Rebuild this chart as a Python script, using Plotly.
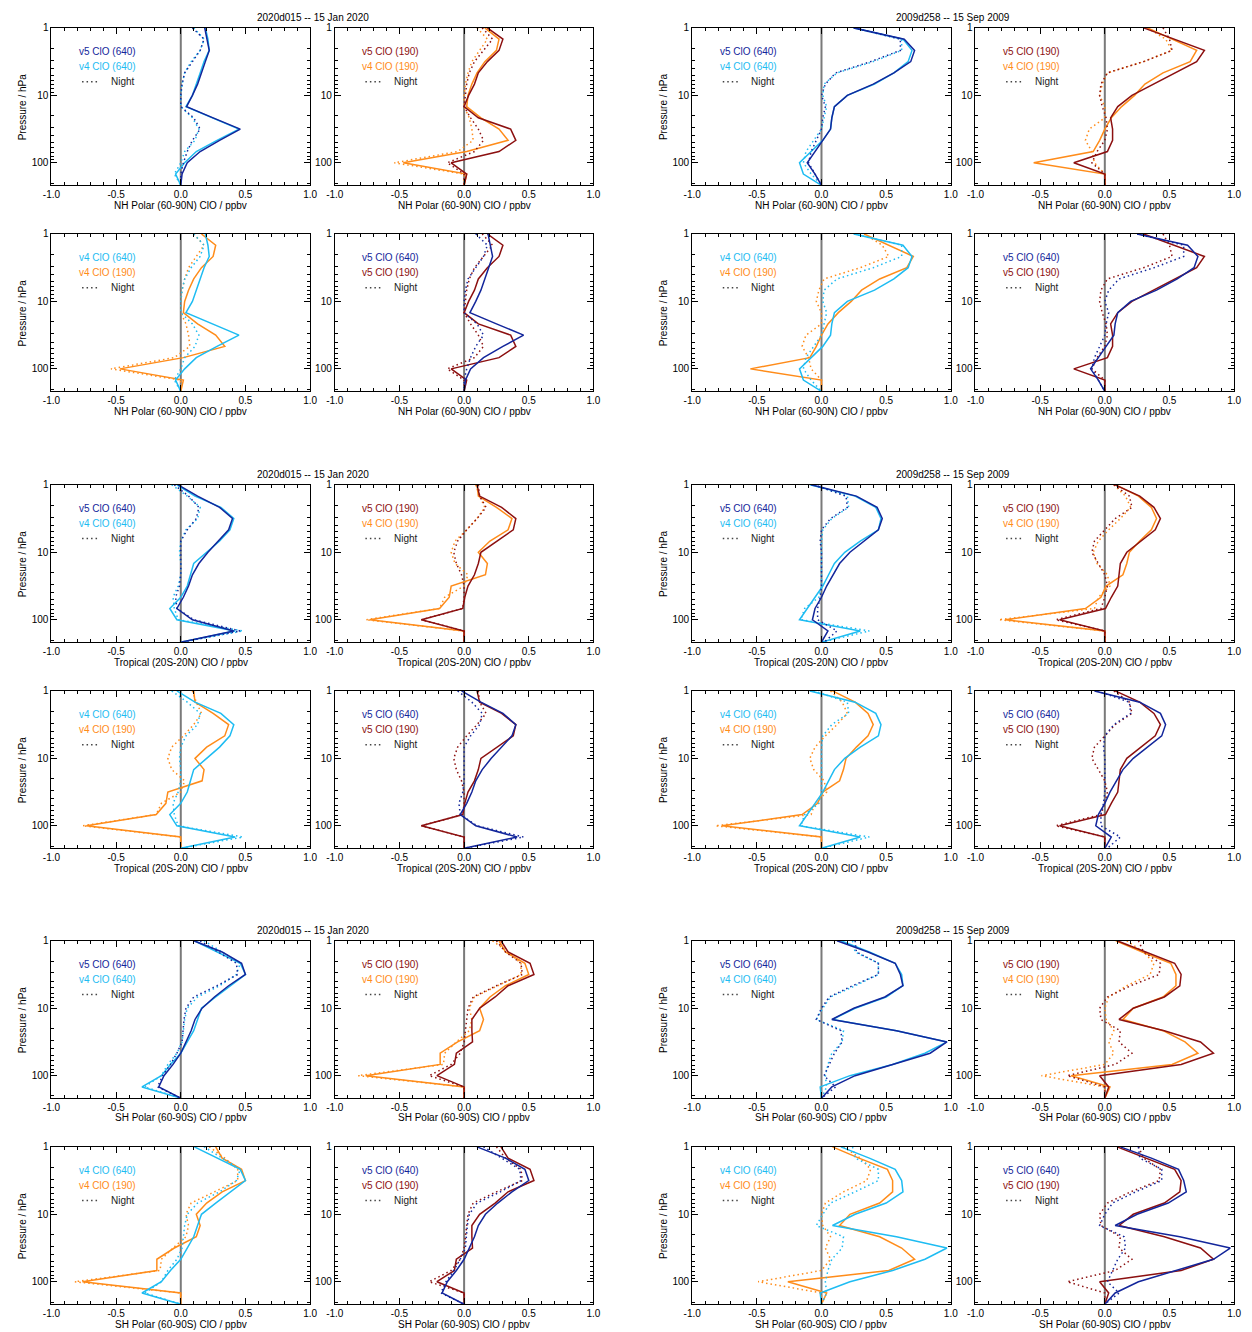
import plotly.graph_objects as go

# ---------------- data ----------------
pressure = [1.0, 1.468, 2.154, 3.162, 4.642, 6.813, 10.0, 14.68, 21.54, 31.62, 46.42, 68.13, 100.0, 146.8, 215.4]

# NH polar, 2020d015
nh_jan_v5_640_day = [0.185, 0.20, 0.22, 0.19, 0.16, 0.13, 0.09, 0.045, 0.25, 0.46, 0.30, 0.15, 0.05, 0.01, 0.0]
nh_jan_v4_640_day = [0.19, 0.21, 0.22, 0.18, 0.15, 0.12, 0.09, 0.04, 0.24, 0.45, 0.28, 0.12, 0.03, -0.04, 0.0]
nh_jan_v5_640_night = [0.09, 0.18, 0.15, 0.09, 0.03, 0.01, 0.0, 0.0, 0.10, 0.15, 0.09, 0.05, 0.02, 0.0, 0.0]
nh_jan_v4_640_night = [0.10, 0.18, 0.15, 0.08, 0.03, 0.01, 0.0, 0.0, 0.09, 0.14, 0.11, 0.03, 0.0, -0.05, 0.0]
nh_jan_v5_190_day = [0.18, 0.30, 0.27, 0.18, 0.11, 0.08, 0.035, 0.0, 0.11, 0.36, 0.40, 0.27, -0.10, 0.02, 0.0]
nh_jan_v4_190_day = [0.16, 0.27, 0.25, 0.16, 0.10, 0.06, 0.03, 0.02, 0.13, 0.27, 0.34, 0.02, -0.47, 0.02, 0.0]
nh_jan_v5_190_night = [0.14, 0.22, 0.15, 0.08, 0.04, 0.02, 0.01, 0.0, 0.05, 0.11, 0.15, 0.08, -0.13, 0.0, 0.0]
nh_jan_v4_190_night = [0.10, 0.18, 0.12, 0.06, 0.03, 0.01, 0.0, 0.0, 0.04, 0.06, 0.07, -0.05, -0.54, 0.0, 0.0]

# NH polar, 2009d258
nh_sep_v5_640_day = [0.25, 0.64, 0.72, 0.69, 0.56, 0.40, 0.20, 0.10, 0.08, 0.07, 0.01, -0.05, -0.11, -0.05, 0.0]
nh_sep_v4_640_day = [0.25, 0.63, 0.70, 0.67, 0.56, 0.41, 0.20, 0.10, 0.08, 0.07, 0.01, -0.08, -0.17, -0.14, 0.0]
nh_sep_v5_640_night = [0.25, 0.61, 0.61, 0.38, 0.11, 0.03, 0.0, 0.03, 0.01, 0.0, -0.04, -0.08, -0.10, -0.05, 0.0]
nh_sep_v4_640_night = [0.25, 0.62, 0.62, 0.40, 0.12, 0.02, 0.01, 0.04, 0.02, 0.0, -0.06, -0.12, -0.14, -0.08, 0.0]
nh_sep_v5_190_day = [0.30, 0.54, 0.77, 0.71, 0.54, 0.37, 0.21, 0.10, 0.045, 0.06, 0.06, 0.02, -0.24, 0.0, 0.0]
nh_sep_v4_190_day = [0.33, 0.52, 0.71, 0.66, 0.45, 0.31, 0.23, 0.13, 0.05, 0.0, -0.04, -0.09, -0.55, 0.0, 0.0]
nh_sep_v5_190_night = [0.45, 0.50, 0.52, 0.30, 0.02, -0.03, -0.04, -0.02, 0.01, 0.02, 0.0, -0.06, -0.10, 0.0, 0.0]
nh_sep_v4_190_night = [0.33, 0.47, 0.52, 0.30, 0.02, -0.02, -0.04, 0.0, 0.0, -0.12, -0.15, -0.10, -0.08, 0.0, 0.0]

# Tropical, 2020d015
tr_jan_v5_640_day = [-0.02, 0.13, 0.30, 0.40, 0.37, 0.29, 0.21, 0.14, 0.09, 0.06, 0.02, -0.03, 0.09, 0.41, 0.0]
tr_jan_v4_640_day = [-0.03, 0.11, 0.31, 0.41, 0.38, 0.30, 0.20, 0.10, 0.075, 0.05, 0.0, -0.085, -0.03, 0.42, 0.0]
tr_jan_v5_640_night = [-0.05, 0.06, 0.14, 0.12, 0.05, 0.0, 0.0, 0.0, 0.0, -0.01, -0.04, -0.03, 0.10, 0.46, 0.0]
tr_jan_v4_640_night = [-0.07, 0.05, 0.15, 0.13, 0.04, 0.0, -0.01, 0.0, 0.0, -0.02, -0.06, -0.05, -0.02, 0.48, 0.0]
tr_jan_v5_190_day = [0.10, 0.12, 0.29, 0.40, 0.38, 0.25, 0.13, 0.11, 0.08, 0.03, 0.005, -0.01, -0.33, 0.0, 0.0]
tr_jan_v4_190_day = [0.10, 0.11, 0.25, 0.37, 0.34, 0.20, 0.11, 0.18, 0.165, -0.10, -0.115, -0.19, -0.73, 0.0, 0.0]
tr_jan_v5_190_night = [0.11, 0.12, 0.17, 0.10, 0.02, -0.05, -0.08, -0.06, -0.02, 0.0, 0.0, -0.01, -0.33, 0.0, 0.0]
tr_jan_v4_190_night = [0.09, 0.12, 0.16, 0.10, 0.02, -0.07, -0.10, -0.07, 0.03, 0.0, -0.15, -0.19, -0.76, 0.0, 0.0]

# Tropical, 2009d258
tr_sep_v5_640_day = [-0.08, 0.27, 0.43, 0.47, 0.44, 0.33, 0.22, 0.14, 0.09, 0.04, 0.0, -0.05, -0.07, 0.05, 0.0]
tr_sep_v4_640_day = [-0.09, 0.26, 0.42, 0.46, 0.44, 0.30, 0.18, 0.10, 0.055, 0.01, -0.05, -0.11, -0.17, 0.30, 0.0]
tr_sep_v5_640_night = [-0.06, 0.19, 0.20, 0.07, 0.0, -0.01, 0.0, 0.0, 0.0, 0.0, -0.01, -0.03, -0.03, 0.12, 0.02]
tr_sep_v4_640_night = [-0.06, 0.20, 0.21, 0.08, 0.01, 0.0, 0.0, 0.0, 0.0, 0.0, -0.02, -0.13, -0.16, 0.37, 0.0]
tr_sep_v5_190_day = [0.08, 0.27, 0.38, 0.43, 0.39, 0.28, 0.17, 0.12, 0.11, 0.10, 0.05, 0.005, -0.35, 0.0, 0.0]
tr_sep_v4_190_day = [0.085, 0.26, 0.36, 0.40, 0.36, 0.27, 0.19, 0.17, 0.14, 0.01, -0.03, -0.15, -0.77, 0.0, 0.0]
tr_sep_v5_190_night = [0.07, 0.19, 0.21, 0.08, 0.0, -0.08, -0.10, -0.05, 0.0, 0.02, 0.0, -0.03, -0.38, 0.0, 0.0]
tr_sep_v4_190_night = [0.07, 0.16, 0.20, 0.12, 0.03, -0.05, -0.09, -0.06, 0.02, 0.04, -0.05, -0.08, -0.82, 0.0, 0.0]

# SH polar, 2020d015
sh_jan_v5_640_day = [0.10, 0.32, 0.47, 0.50, 0.37, 0.26, 0.165, 0.11, 0.08, 0.04, 0.0, -0.06, -0.13, -0.17, 0.0]
sh_jan_v4_640_day = [0.105, 0.28, 0.46, 0.50, 0.38, 0.27, 0.16, 0.13, 0.10, 0.05, 0.0, -0.08, -0.15, -0.30, 0.0]
sh_jan_v5_640_night = [0.15, 0.29, 0.43, 0.44, 0.28, 0.10, 0.04, 0.025, 0.02, 0.01, -0.03, -0.08, -0.14, -0.18, 0.0]
sh_jan_v4_640_night = [0.18, 0.32, 0.46, 0.43, 0.30, 0.13, 0.05, 0.03, 0.02, 0.01, -0.03, -0.10, -0.15, -0.28, 0.0]
sh_jan_v5_190_day = [0.285, 0.34, 0.51, 0.54, 0.34, 0.24, 0.12, 0.06, 0.06, 0.065, -0.06, -0.075, -0.21, 0.0, 0.0]
sh_jan_v4_190_day = [0.27, 0.32, 0.47, 0.50, 0.32, 0.20, 0.12, 0.15, 0.12, -0.05, -0.185, -0.185, -0.76, 0.0, 0.0]
sh_jan_v5_190_night = [0.25, 0.32, 0.44, 0.45, 0.25, 0.07, 0.03, 0.02, 0.01, 0.0, -0.03, -0.10, -0.27, 0.0, 0.0]
sh_jan_v4_190_night = [0.22, 0.34, 0.44, 0.44, 0.26, 0.08, 0.04, 0.06, 0.04, -0.06, -0.15, -0.16, -0.82, 0.0, 0.0]

# SH polar, 2009d258
sh_sep_v5_640_day = [0.12, 0.36, 0.57, 0.61, 0.63, 0.49, 0.25, 0.08, 0.58, 0.97, 0.84, 0.55, 0.26, 0.08, 0.0]
sh_sep_v4_640_day = [0.15, 0.37, 0.57, 0.62, 0.63, 0.50, 0.26, 0.085, 0.58, 0.97, 0.80, 0.55, 0.22, -0.01, 0.0]
sh_sep_v5_640_night = [0.26, 0.27, 0.44, 0.44, 0.24, 0.06, 0.0, -0.04, 0.15, 0.16, 0.10, 0.06, 0.02, 0.11, 0.0]
sh_sep_v4_640_night = [0.24, 0.26, 0.44, 0.44, 0.26, 0.07, 0.01, -0.04, 0.17, 0.16, 0.08, 0.05, 0.03, 0.04, 0.0]
sh_sep_v5_190_day = [0.095, 0.32, 0.54, 0.59, 0.58, 0.46, 0.22, 0.11, 0.46, 0.74, 0.84, 0.59, -0.04, 0.03, 0.0]
sh_sep_v4_190_day = [0.085, 0.29, 0.51, 0.55, 0.55, 0.45, 0.22, 0.14, 0.45, 0.62, 0.72, 0.52, -0.26, 0.04, 0.0]
sh_sep_v5_190_night = [0.26, 0.30, 0.43, 0.42, 0.20, 0.02, -0.04, -0.03, 0.12, 0.11, 0.21, 0.08, -0.29, 0.0, 0.0]
sh_sep_v4_190_night = [0.17, 0.30, 0.38, 0.35, 0.17, 0.03, 0.0, 0.01, 0.07, 0.03, 0.07, 0.0, -0.49, 0.0, 0.0]

dates = ["2020d015 -- 15 Jan 2020", "2009d258 -- 15 Sep 2009"]
region_titles = ["NH Polar (60-90N) ClO / ppbv", "Tropical (20S-20N) ClO / ppbv", "SH Polar (60-90S) ClO / ppbv"]
series_labels = {"v5_640": "v5 ClO (640)", "v4_640": "v4 ClO (640)", "v5_190": "v5 ClO (190)", "v4_190": "v4 ClO (190)"}
x_ticks = [-1.0, -0.5, 0.0, 0.5, 1.0]
x_tick_text = ["-1.0", "-0.5", "0.0", "0.5", "1.0"]
y_ticks = [1, 10, 100]
y_tick_text = ["1", "10", "100"]

# ---------------- assembly ----------------
g = globals()
def profiles(prefix):
    d = {}
    for s in ["v5_640", "v4_640", "v5_190", "v4_190"]:
        d[s] = (g[f"{prefix}_{s}_day"], g[f"{prefix}_{s}_night"])
    return d

datasets = {
    (0, 0): profiles("nh_jan"), (0, 1): profiles("nh_sep"),
    (1, 0): profiles("tr_jan"), (1, 1): profiles("tr_sep"),
    (2, 0): profiles("sh_jan"), (2, 1): profiles("sh_sep"),
}

colors = {"v5_640": "#13269b", "v4_640": "#1ebcf2", "v5_190": "#8c1010", "v4_190": "#ff8c1a"}
panel_series = {(0, 0): ["v5_640", "v4_640"], (0, 1): ["v5_190", "v4_190"],
                (1, 0): ["v4_640", "v4_190"], (1, 1): ["v5_640", "v5_190"]}

W, H = 1252, 1332
row_tops = [22, 229, 481, 688, 939, 1146]
col_lefts = [43, 330, 692, 979]
PW, PH = 262, 158
FONT = "Liberation Sans, Arial, Helvetica, sans-serif"
DOT = "1.5px,3px"

def px_x(px):
    return px / W

def px_y(py):
    return 1 - py / H

fig = go.Figure()
layout = dict(width=W, height=H, autosize=False, margin=dict(l=0, r=0, t=0, b=0),
              paper_bgcolor="white", plot_bgcolor="white", showlegend=False,
              font=dict(family=FONT, size=10, color="black"))
annotations = []
shapes = []
minor_vals = [v * m for m in (1, 10, 100) for v in range(2, 10)]

idx = 0
for b in range(3):
    for h in range(2):
        data = datasets[(b, h)]
        for r in range(2):
            for c in range(2):
                idx += 1
                row = 2 * b + r
                col = 2 * h + c
                left = col_lefts[col]
                top = row_tops[row]
                xa = "xaxis" if idx == 1 else f"xaxis{idx}"
                ya = "yaxis" if idx == 1 else f"yaxis{idx}"
                xr = "x" if idx == 1 else f"x{idx}"
                yr = "y" if idx == 1 else f"y{idx}"
                layout[xa] = dict(domain=[px_x(left), px_x(left + PW)], anchor=yr, range=[-1, 1],
                                  tickvals=x_ticks, ticktext=x_tick_text, ticks="inside", ticklen=6,
                                  tickcolor="black", showline=True, linecolor="black", linewidth=1,
                                  mirror="allticks", showgrid=False, zeroline=False,
                                  tickfont=dict(size=10), fixedrange=True,
                                  minor=dict(ticks="inside", dtick=0.1, tick0=0, ticklen=3, tickcolor="black", showgrid=False))
                layout[ya] = dict(domain=[px_y(top + PH), px_y(top)], anchor=xr, type="log",
                                  range=[2.332, 0], tickvals=y_ticks, ticktext=y_tick_text,
                                  ticks="inside", ticklen=6, tickcolor="black", showline=True,
                                  linecolor="black", linewidth=1, mirror="allticks", showgrid=False,
                                  zeroline=False, tickfont=dict(size=10), fixedrange=True,
                                  minor=dict(ticks="inside", tickvals=minor_vals, ticklen=3, tickcolor="black", showgrid=False))
                # zero line
                shapes.append(dict(type="line", xref=xr, yref=f"{yr} domain", x0=0, x1=0, y0=0, y1=1,
                                   line=dict(color="#7a7a7a", width=2), layer="below"))
                ser = panel_series[(r, c)]
                for s in reversed(ser):
                    day, night = data[s]
                    fig.add_trace(go.Scatter(x=night, y=pressure, mode="lines", xaxis=xr, yaxis=yr,
                                             line=dict(color=colors[s], width=1.5, dash=DOT)))
                    fig.add_trace(go.Scatter(x=day, y=pressure, mode="lines", xaxis=xr, yaxis=yr,
                                             line=dict(color=colors[s], width=1.5)))
                # in-panel legend
                for k, s in enumerate(ser):
                    annotations.append(dict(x=px_x(left + 26), y=px_y(top + 24 + 15 * k), xref="paper", yref="paper",
                                            text=series_labels[s], showarrow=False, xanchor="left", yanchor="middle",
                                            font=dict(color=colors[s], size=10)))
                annotations.append(dict(x=px_x(left + 58), y=px_y(top + 54), xref="paper", yref="paper",
                                        text="Night", showarrow=False, xanchor="left", yanchor="middle",
                                        font=dict(color="#222222", size=10)))
                shapes.append(dict(type="line", xref="paper", yref="paper", x0=px_x(left + 31), x1=px_x(left + 49),
                                   y0=px_y(top + 54), y1=px_y(top + 54),
                                   line=dict(color="#444444", width=1.5, dash=DOT)))
                # axis titles
                annotations.append(dict(x=px_x(left + PW / 2), y=px_y(top + PH + 20), xref="paper", yref="paper",
                                        text=region_titles[b], showarrow=False, xanchor="center", yanchor="middle",
                                        font=dict(size=10)))
                if c == 0:
                    annotations.append(dict(x=px_x(left - 29), y=px_y(top + PH / 2), xref="paper", yref="paper",
                                            text="Pressure / hPa", showarrow=False, textangle=-90,
                                            xanchor="center", yanchor="middle", font=dict(size=10)))
                if r == 0 and c == 0:
                    annotations.append(dict(x=px_x(col_lefts[2 * h] + (PW * 2 + 25) / 2 - 10), y=px_y(top - 10),
                                            xref="paper", yref="paper", text=dates[h], showarrow=False,
                                            xanchor="center", yanchor="middle", font=dict(size=10)))

layout["annotations"] = annotations
layout["shapes"] = shapes
fig.update_layout(**layout)
fig.write_html("out.html", config={"displayModeBar": False},
               post_script="document.body.style.margin='0px';document.body.style.overflow='hidden';")
